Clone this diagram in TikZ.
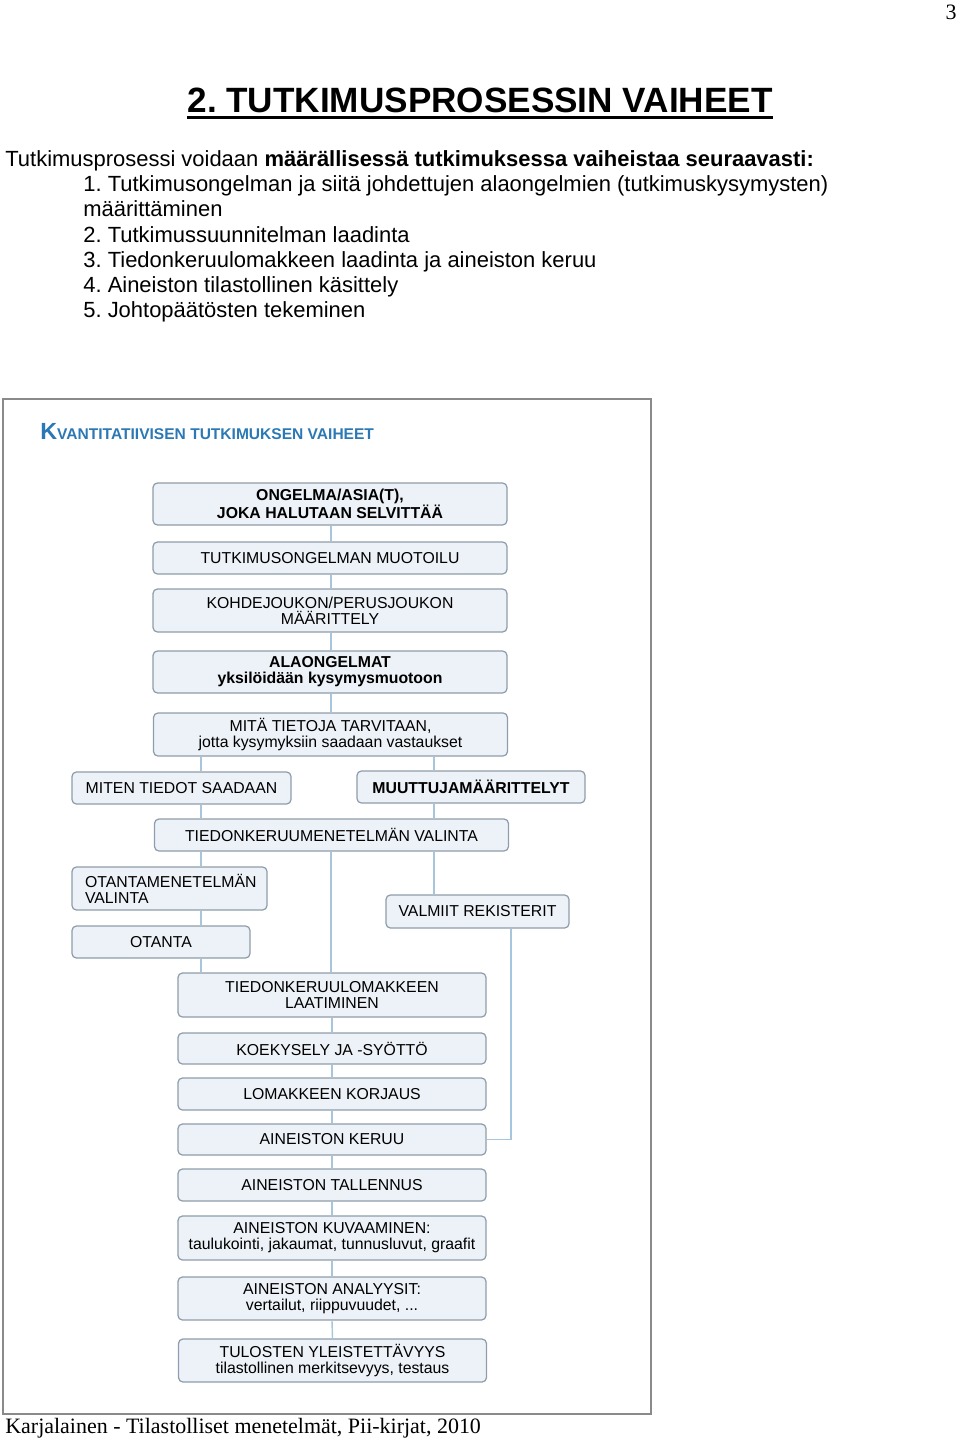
\documentclass[tikz,border=0pt]{standalone}
\usepackage{fontspec}
\setmainfont{Liberation Sans}
\newfontfamily\timesfont{Liberation Serif}
\usepackage{tikz}
\usepackage{xcolor}
\usetikzlibrary{positioning,calc}
\frenchspacing

\definecolor{boxfill}{HTML}{EDF2F8}
\definecolor{boxline}{HTML}{8E9CAB}
\definecolor{linkblue}{HTML}{A7C6DD}
\definecolor{headblue}{HTML}{2B78B4}
\definecolor{framegray}{HTML}{8A8A8A}

\begin{document}
\begin{tikzpicture}[x=0.02cm,y=-0.02cm,
    stage/.style={draw=boxline,fill=boxfill,rounded corners=2.5pt,line width=0.7pt,
        inner sep=0pt,align=center,font=\fontsize{9}{9.1}\selectfont},
    wide/.style={stage,minimum width=7.08cm},
    narrow/.style={stage,minimum width=6.16cm},
    link/.style={linkblue,line width=0.8pt},
    bodyline/.style={anchor=base west,inner sep=0pt,font=\fontsize{12.5}{14.5}\selectfont}]

    \useasboundingbox (0,0) rectangle (960,1440);

    % page header and text
    \node[anchor=base east,inner sep=0pt,font=\timesfont\fontsize{12.5}{14}\selectfont] (pagenum) at (957,19) {3};
    \node[anchor=base,inner sep=0pt,font=\bfseries\fontsize{20}{24}\selectfont] (title) at (480,112) {2. TUTKIMUSPROSESSIN VAIHEET};
    \draw[line width=1.5pt] ([yshift=-3.2pt]title.base west) -- ([yshift=-3.2pt]title.base east);

    \node[bodyline] (intro) at (5,166) {Tutkimusprosessi voidaan \textbf{määrällisessä tutkimuksessa vaiheistaa seuraavasti:}};
    \node[bodyline] (item1) at (83,191) {1. Tutkimusongelman ja siitä johdettujen alaongelmien (tutkimuskysymysten)};
    \node[bodyline] (item1b) at (83,216.5) {määrittäminen};
    \node[bodyline] (item2) at (83,242) {2. Tutkimussuunnitelman laadinta};
    \node[bodyline] (item3) at (83,267) {3. Tiedonkeruulomakkeen laadinta ja aineiston keruu};
    \node[bodyline] (item4) at (83,292) {4. Aineiston tilastollinen käsittely};
    \node[bodyline] (item5) at (83,317.5) {5. Johtopäätösten tekeminen};

    % scanned figure
    \draw[framegray,line width=0.6pt] (3,399) rectangle (651,1414);
    \node[anchor=base west,inner sep=0pt,text=headblue,font=\bfseries] (charttitle) at (40,439)
        {{\fontsize{13.3}{14}\selectfont K}{\fontsize{8.85}{10}\selectfont VANTITATIIVISEN TUTKIMUKSEN VAIHEET}};

    \node[wide,minimum height=0.84cm,font=\bfseries\fontsize{9}{9.1}\selectfont] (ongelma) at (330,504) {ONGELMA/ASIA(T),\\JOKA HALUTAAN SELVITTÄÄ};
    \node[wide,minimum height=0.64cm] (muotoilu) at (330,558) {TUTKIMUSONGELMAN MUOTOILU};
    \node[wide,minimum height=0.86cm] (kohde) at (330,610.5) {KOHDEJOUKON/PERUSJOUKON\\MÄÄRITTELY};
    \node[wide,minimum height=0.84cm,font=\bfseries\fontsize{9}{9.1}\selectfont] (ala) at (330,672) {ALAONGELMAT\\yksilöidään kysymysmuotoon};
    \node[wide,minimum height=0.86cm] (tietoja) at (330.5,734.5) {MITÄ TIETOJA TARVITAAN,\\jotta kysymyksiin saadaan vastaukset};
    \node[stage,minimum width=4.38cm,minimum height=0.64cm] (miten) at (181.5,788) {MITEN TIEDOT SAADAAN};
    \node[stage,minimum width=4.56cm,minimum height=0.64cm,font=\bfseries\fontsize{9}{9.1}\selectfont] (muuttuja) at (471,787) {MUUTTUJAMÄÄRITTELYT};
    \node[wide,minimum height=0.64cm] (menetelma) at (331.5,835) {TIEDONKERUUMENETELMÄN VALINTA};
    \node[stage,align=left,text width=3.38cm,inner xsep=0.26cm,minimum height=0.86cm] (otantamen) at (169.5,888.5) {OTANTAMENETELMÄN\\VALINTA};
    \node[stage,minimum width=3.66cm,minimum height=0.66cm] (rekisteri) at (477.5,911.5) {VALMIIT REKISTERIT};
    \node[stage,minimum width=3.56cm,minimum height=0.64cm] (otanta) at (161,942) {OTANTA};
    \node[narrow,minimum height=0.88cm] (lomake) at (332,995) {TIEDONKERUULOMAKKEEN\\LAATIMINEN};
    \node[narrow,minimum height=0.62cm] (koe) at (332,1048.5) {KOEKYSELY JA -SYÖTTÖ};
    \node[narrow,minimum height=0.64cm] (korjaus) at (332,1094) {LOMAKKEEN KORJAUS};
    \node[narrow,minimum height=0.62cm] (keruu) at (332,1139.5) {AINEISTON KERUU};
    \node[narrow,minimum height=0.64cm] (tallennus) at (332,1185) {AINEISTON TALLENNUS};
    \node[narrow,minimum height=0.88cm] (kuvaus) at (332,1238) {AINEISTON KUVAAMINEN:\\taulukointi, jakaumat, tunnusluvut, graafit};
    \node[narrow,minimum height=0.86cm] (analyysi) at (332,1298.5) {AINEISTON ANALYYSIT:\\vertailut, riippuvuudet, ...};
    \node[narrow,minimum height=0.86cm] (yleistys) at (332.5,1360.5) {TULOSTEN YLEISTETTÄVYYS\\tilastollinen merkitsevyys, testaus};

    % connectors
    \coordinate (midx) at (331,0);
    \coordinate (leftx) at (201,0);
    \coordinate (rightx) at (434,0);
    \coordinate (farx) at (511,0);
    \foreach \a/\b in {ongelma/muotoilu,muotoilu/kohde,kohde/ala,ala/tietoja,menetelma/lomake}
        \draw[link] (\a.south -| midx) -- (\b.north -| midx);
    \foreach \a/\b in {tietoja/miten,miten/menetelma,menetelma/otantamen,otantamen/otanta,otanta/lomake}
        \draw[link] (\a.south -| leftx) -- (\b.north -| leftx);
    \foreach \a/\b in {tietoja/muuttuja,muuttuja/menetelma,menetelma/rekisteri}
        \draw[link] (\a.south -| rightx) -- (\b.north -| rightx);
    \draw[link] (rekisteri.south -| farx) |- (keruu.east);
    \foreach \a/\b in {lomake/koe,koe/korjaus,korjaus/keruu,keruu/tallennus,tallennus/kuvaus,kuvaus/analyysi,analyysi/yleistys}
        \draw[link] (\a.south) -- (\b.north);

    \node[anchor=base west,inner sep=0pt,font=\timesfont\fontsize{12.5}{14}\selectfont] (source) at (5,1433) {Karjalainen - Tilastolliset menetelmät, Pii-kirjat, 2010};

\end{tikzpicture}
\end{document}
